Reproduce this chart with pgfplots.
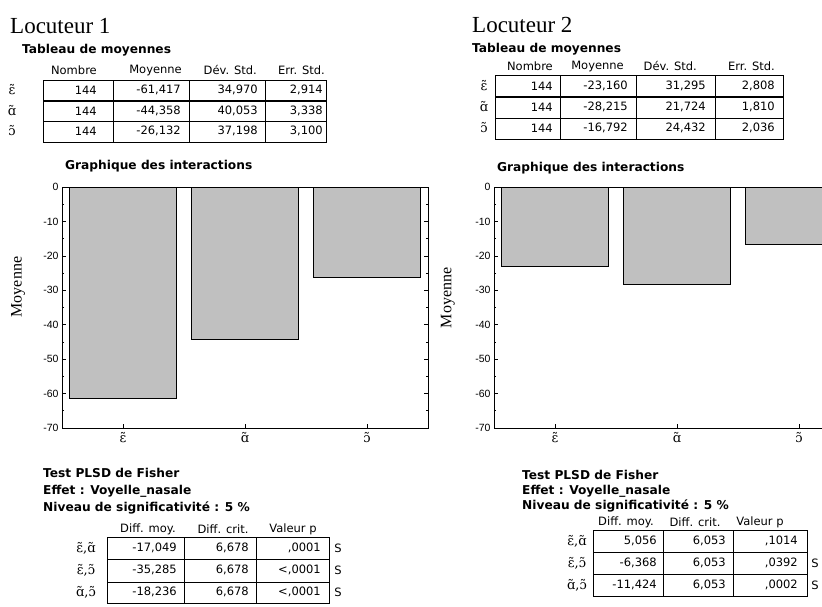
\documentclass[border=0pt]{standalone}
\usepackage{pgfplots}
\pgfplotsset{compat=1.18}
\usepackage{fontspec}
\setmainfont{DejaVu Sans}
\newfontfamily\tnr{Liberation Serif}
\newfontfamily\ipa{DejaVu Serif}
\newfontfamily\ars{Liberation Sans}
\definecolor{barfill}{RGB}{192,192,192}
\newcommand{\tf}{\fontsize{11.5}{12}\selectfont}
\newcommand{\hb}{\fontsize{12.2}{13}\selectfont\bfseries}
\newcommand{\ipf}{\ipa\fontsize{13}{14}\selectfont}
\newcommand{\vE}{ɛ̃}
\newcommand{\vA}{ɑ̃}
\newcommand{\vO}{ɔ̃}
\pgfplotsset{
  panel/.style={
    anchor=south west, width=366pt, height=241pt, scale only axis,
    xmin=-0.5, xmax=2.5, ymin=-70, ymax=0,
    ybar, bar width=0.877,
    xtick={0,1,2}, xticklabels={\vE,\vA,\vO},
    ytick={-70,-60,...,0}, minor ytick={-65,-55,...,-5},
    tick align=inside, major tick length=4pt, minor tick length=2pt,
    tick style={black, line width=0.6pt},
    axis line style={line width=1pt},
    xticklabel style={font=\ipf, yshift=-1pt},
    yticklabel style={font=\ars\fontsize{10.5}{11}\selectfont},
    /pgf/number format/assume math mode=true,
    ylabel={Moyenne},
  }
}
\begin{document}
\begin{tikzpicture}
\useasboundingbox (0,0) rectangle (822pt,-606pt);
\clip (0,0) rectangle (822pt,-606pt);
\begin{scope}[x=1pt,y=-1pt, every node/.style={inner sep=0pt}]
% ---------- Panel 1 ----------
\node[anchor=base west,font=\tnr\fontsize{23}{25}\selectfont] at (10,33) {Locuteur 1};
\node[anchor=base west,font=\hb] at (22,53) {Tableau de moyennes};
\draw[line width=1pt] (43,80) rectangle (326,142);
\draw[line width=0.5pt] (113,80)--(113,142) (189,80)--(189,142) (265,80)--(265,142) (43,121)--(326,121);
\draw[line width=1.2pt] (43,101)--(326,101);
\begin{scope}[font=\tf]
\node[anchor=east] at (97,70) {Nombre};
\node[anchor=east] at (182,70) {Moyenne};
\node[anchor=east] at (257,70) {Dév. Std.};
\node[anchor=east] at (325,70) {Err. Std.};
\node[font=\ipf] at (12,90) {\vE};
\node[font=\ipf] at (12,111) {\vA};
\node[font=\ipf] at (12,131) {\vO};
\node[anchor=east] at (97,90) {144};
\node[anchor=east] at (181,90) {-61,417};
\node[anchor=east] at (258,90) {34,970};
\node[anchor=east] at (323,90) {2,914};
\node[anchor=east] at (97,111) {144};
\node[anchor=east] at (181,111) {-44,358};
\node[anchor=east] at (258,111) {40,053};
\node[anchor=east] at (323,111) {3,338};
\node[anchor=east] at (97,131) {144};
\node[anchor=east] at (181,131) {-26,132};
\node[anchor=east] at (258,131) {37,198};
\node[anchor=east] at (323,131) {3,100};
\end{scope}
\node[anchor=base west,font=\hb] at (65,169) {Graphique des interactions};
\node[anchor=base west,font=\hb] at (43,477) {Test PLSD de Fisher};
\node[anchor=base west,font=\hb] at (43,494) {Effet : Voyelle\_nasale};
\node[anchor=base west,font=\hb] at (43,511) {Niveau de significativité : 5 \%};
\draw[line width=1pt] (107,537) rectangle (329,603);
\draw[line width=0.5pt] (184,537)--(184,603) (256,537)--(256,603) (107,559)--(329,559) (107,582)--(329,582);
\begin{scope}[font=\tf]
\node at (148,529) {Diff. moy.};
\node at (223,529) {Diff. crit.};
\node at (293,529) {Valeur p};
\node[font=\ipf] at (86,548) {\vE,\vA};
\node[font=\ipf] at (86,570) {\vE,\vO};
\node[font=\ipf] at (86,592) {\vA,\vO};
\node[anchor=east] at (177,548) {-17,049};
\node[anchor=east] at (249,548) {6,678};
\node[anchor=east] at (321,548) {,0001};
\node at (338,548) {S};
\node[anchor=east] at (177,570) {-35,285};
\node[anchor=east] at (249,570) {6,678};
\node[anchor=east] at (321,570) {<,0001};
\node at (338,570) {S};
\node[anchor=east] at (177,592) {-18,236};
\node[anchor=east] at (249,592) {6,678};
\node[anchor=east] at (321,592) {<,0001};
\node at (338,592) {S};
\end{scope}
% ---------- Panel 2 ----------
\node[anchor=base west,font=\tnr\fontsize{23}{25}\selectfont] at (472,32) {Locuteur 2};
\node[anchor=base west,font=\hb] at (472,52) {Tableau de moyennes};
\draw[line width=1pt] (495,75) rectangle (783,139);
\draw[line width=0.5pt] (560,75)--(560,139) (636,75)--(636,139) (715,75)--(715,139) (495,118)--(783,118);
\draw[line width=1.2pt] (495,97)--(783,97);
\begin{scope}[font=\tf]
\node[anchor=east] at (553,66) {Nombre};
\node[anchor=east] at (624,66) {Moyenne};
\node[anchor=east] at (697,66) {Dév. Std.};
\node[anchor=east] at (775,66) {Err. Std.};
\node[font=\ipf] at (484,86) {\vE};
\node[font=\ipf] at (484,107) {\vA};
\node[font=\ipf] at (484,128) {\vO};
\node[anchor=east] at (553,86) {144};
\node[anchor=east] at (628,86) {-23,160};
\node[anchor=east] at (706,86) {31,295};
\node[anchor=east] at (775,86) {2,808};
\node[anchor=east] at (553,107) {144};
\node[anchor=east] at (628,107) {-28,215};
\node[anchor=east] at (706,107) {21,724};
\node[anchor=east] at (775,107) {1,810};
\node[anchor=east] at (553,128) {144};
\node[anchor=east] at (628,128) {-16,792};
\node[anchor=east] at (706,128) {24,432};
\node[anchor=east] at (775,128) {2,036};
\end{scope}
\node[anchor=base west,font=\hb] at (497,171) {Graphique des interactions};
\node[anchor=base west,font=\hb] at (522,479) {Test PLSD de Fisher};
\node[anchor=base west,font=\hb] at (522,494) {Effet : Voyelle\_nasale};
\node[anchor=base west,font=\hb] at (522,509) {Niveau de significativité : 5 \%};
\draw[line width=1pt] (593,530) rectangle (807,596);
\draw[line width=0.5pt] (663,530)--(663,596) (733,530)--(733,596) (593,552)--(807,552) (593,574)--(807,574);
\begin{scope}[font=\tf]
\node at (626,522) {Diff. moy.};
\node at (695,522) {Diff. crit.};
\node at (760,522) {Valeur p};
\node[font=\ipf] at (577,541) {\vE,\vA};
\node[font=\ipf] at (577,563) {\vE,\vO};
\node[font=\ipf] at (577,585) {\vA,\vO};
\node[anchor=east] at (657,541) {5,056};
\node[anchor=east] at (726,541) {6,053};
\node[anchor=east] at (798,541) {,1014};
\node[anchor=east] at (657,563) {-6,368};
\node[anchor=east] at (726,563) {6,053};
\node[anchor=east] at (798,563) {,0392};
\node at (815,563) {S};
\node[anchor=east] at (657,585) {-11,424};
\node[anchor=east] at (726,585) {6,053};
\node[anchor=east] at (798,585) {,0002};
\node at (815,585) {S};
\end{scope}
\end{scope}
% ---------- Axes ----------
\begin{axis}[panel, at={(62pt,-428pt)},
  every axis y label/.style={at={(axis description cs:-0.12,0.585)}, rotate=90, anchor=center, font=\tnr\fontsize{16}{17}\selectfont}]
\addplot[fill=barfill, draw=black, line width=0.8pt] coordinates {(0,-61.417) (1,-44.358) (2,-26.132)};
\end{axis}
\begin{axis}[panel, at={(494pt,-428pt)},
  every axis y label/.style={at={(axis description cs:-0.126,0.54)}, rotate=90, anchor=center, font=\tnr\fontsize{16}{17}\selectfont}]
\addplot[fill=barfill, draw=black, line width=0.8pt] coordinates {(0,-23.160) (1,-28.215) (2,-16.792)};
\end{axis}
\end{tikzpicture}
\end{document}
